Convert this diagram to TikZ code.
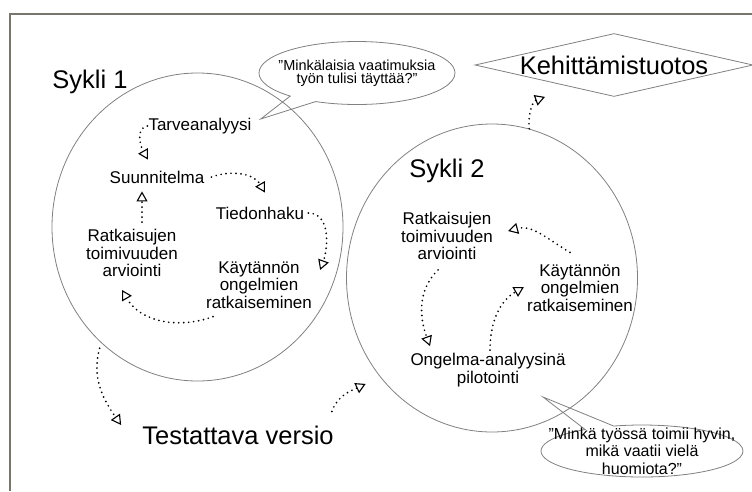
\documentclass[tikz,border=0pt]{standalone}
\usepackage{fontspec}
\setmainfont{Liberation Sans}
\usetikzlibrary{arrows.meta,shapes.geometric,shapes.callouts}
\definecolor{framegray}{RGB}{122,117,108}
\newcommand{\qm}{\symbol{34}}

\begin{document}
\begin{tikzpicture}[x=1pt, y=1pt,
	ring/.style={draw=gray, line width=0.8pt, ellipse, inner sep=0pt, minimum width=291pt, minimum height=308pt},
	lbl/.style={font=\fontsize{17}{17.5}\selectfont, align=center, inner sep=1pt},
	big/.style={font=\fontsize{25.5}{28}\selectfont, inner sep=1pt},
	quote/.style={draw=gray, line width=0.8pt, ellipse callout, callout pointer arc=18, align=center, inner xsep=-25pt, inner ysep=-8pt},
	flow/.style={line width=1.9pt, line cap=round, dash pattern=on 0pt off 5pt, -{Triangle[open, length=10pt, width=11pt, line width=1.1pt]}}
	]
	\useasboundingbox (0,0) rectangle (752,-491);
	\draw [framegray, line width=2pt] (10,-491) -- (10,-14) -- (752,-14);
	
	\node (c1) at (197.5,-227) [ring] {};
	\node (c2) at (492,-278) [ring] {};
	
	\node (s1) at (90,-82) [big] {Sykli 1};
	\node (s2) at (447,-171) [big] {Sykli 2};
	\node (test) at (238,-435) [big] {Testattava versio};
	\node (keh) at (614,-65) [big, draw=gray, line width=0.8pt, diamond, aspect=4.4, inner sep=0pt, minimum width=278pt, minimum height=63pt] {Kehittämistuotos};
	
	\node (tarve) at (200,-126) [lbl] {Tarveanalyysi};
	\node (suun) at (157,-177) [lbl] {Suunnitelma};
	\node (tied) at (260,-213) [lbl] {Tiedonhaku};
	\node (ratk1) at (132,-253) [lbl] {Ratkaisujen\\toimivuuden\\arviointi};
	\node (kayt1) at (259,-285) [lbl] {Käytännön\\ongelmien\\ratkaiseminen};
	
	\node (ratk2) at (447,-236) [lbl] {Ratkaisujen\\toimivuuden\\arviointi};
	\node (kayt2) at (580,-288) [lbl] {Käytännön\\ongelmien\\ratkaiseminen};
	\node (ong) at (488,-370) [lbl] {Ongelma-analyysinä\\pilotointi};
	
	\node (q1) at (357,-73) [quote, font=\fontsize{14.5}{13}\selectfont, minimum width=196pt, minimum height=63pt, callout absolute pointer={([shift={(8,7)}]tarve.east)}] {\qm Minkälaisia vaatimuksia\\työn tulisi täyttää?\qm};
	\node (q2) at (642,-451) [quote, font=\fontsize{16}{17.5}\selectfont, minimum width=202pt, minimum height=52pt, callout absolute pointer={([shift={(51,-119)}]c2.center)}] {\qm Minkä työssä toimii hyvin,\\mikä vaatii vielä\\huomiota?\qm};
	
	% sykli 1
	\draw [flow] (tarve.west) to[out=190, in=120] ([shift={(-9,10)}]suun.north);
	\draw [flow] ([shift={(6,0)}]suun.east) to[out=20, in=120] ([shift={(5,13)}]tied.north);
	\draw [flow] ([shift={(3,0)}]tied.east) to[out=0, in=70] ([shift={(7,15)}]kayt1.east);
	\draw [flow] ([shift={(-46,-7)}]kayt1.south) to[out=200, in=300] ([shift={(-10,-12)}]ratk1.south);
	\draw [flow] ([shift={(10,6)}]ratk1.north) -- ([shift={(-15,-7)}]suun.south);
	
	% sykli 2
	\draw [flow] ([shift={(-10,11)}]kayt2.north) to[out=150, in=15] ([shift={(14,5)}]ratk2.east);
	\draw [flow] ([shift={(-9,-9)}]ratk2.south) to[out=225, in=110] ([shift={(-58,6)}]ong.north);
	\draw [flow] ([shift={(2,2)}]ong.north) to[out=90, in=210] ([shift={(-2,1)}]kayt2.west);
	
	% syklien valilla
	\draw [flow] (c2.76) to[out=95, in=200] ([shift={(-69,0)}]keh.south);
	\draw [flow] ([shift={(-3,-4)}]c1.231) to[out=255, in=125] ([shift={(-20,10)}]test.west);
	\draw [flow] ([shift={(-3,13)}]test.north east) to[out=70, in=205] ([shift={(-12,-10)}]c2.220);
\end{tikzpicture}
\end{document}
